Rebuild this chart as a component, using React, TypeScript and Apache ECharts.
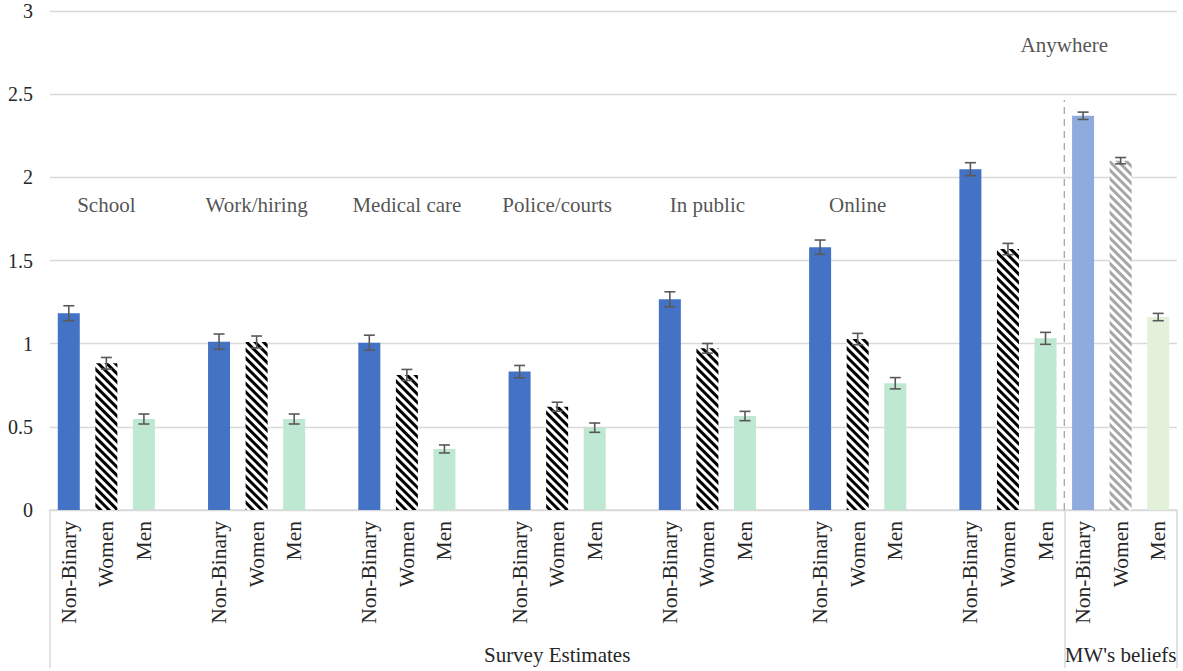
import React, { useEffect, useRef } from 'react';
import * as echarts from 'echarts';

// ---- data ----
const genders = ['Non-Binary', 'Women', 'Men'];
const surveyGroups = ['School', 'Work/hiring', 'Medical care', 'Police/courts', 'In public', 'Online', 'Anywhere'];
const nbSurvey = [1.183, 1.012, 1.006, 0.832, 1.267, 1.58, 2.049];
const womenSurvey = [0.882, 1.01, 0.812, 0.621, 0.972, 1.028, 1.569];
const menSurvey = [0.547, 0.547, 0.367, 0.495, 0.565, 0.762, 1.032];
const nbErr = [0.045, 0.046, 0.045, 0.037, 0.045, 0.043, 0.039];
const womenErr = [0.035, 0.036, 0.033, 0.027, 0.029, 0.034, 0.034];
const menErr = [0.03, 0.03, 0.024, 0.028, 0.028, 0.034, 0.036];
const beliefsValues = [2.37, 2.1, 1.16];
const beliefsErr = [0.022, 0.019, 0.022];
const sectionLabels = ['Survey Estimates', "MW's beliefs"];
const yTicks = [0, 0.5, 1, 1.5, 2, 2.5, 3];

const FONT = 'Liberation Serif, serif';
const TEXT = '#262626';

const stripe = (color: string) => ({
  symbol: 'rect',
  symbolSize: 1,
  dashArrayX: [1, 0],
  dashArrayY: [3, 3],
  rotation: Math.PI / 4,
  color,
});

const surveyStyles = [
  { color: '#4472c4' },
  { color: '#ffffff', decal: stripe('#000000') },
  { color: '#bfe8d3' },
];
const beliefStyles = [
  { color: '#8faadc' },
  { color: '#ffffff', decal: stripe('#a6a6a6') },
  { color: '#e3f1da' },
];

export default function App() {
  const ref = useRef<HTMLDivElement>(null);

  useEffect(() => {
    if (!ref.current) return;
    const chart = echarts.init(ref.current, undefined, { renderer: 'svg' });

    const categories: string[] = [];
    const bars: any[] = [];
    const errs: number[][] = [];
    const groupLabelData: any[] = [];

    surveyGroups.forEach((g, gi) => {
      const vals = [nbSurvey[gi], womenSurvey[gi], menSurvey[gi]];
      const es = [nbErr[gi], womenErr[gi], menErr[gi]];
      const start = categories.length;
      genders.forEach((name, k) => {
        const idx = categories.length;
        categories.push(name);
        bars.push({ value: vals[k], itemStyle: surveyStyles[k] });
        errs.push([idx, vals[k] - es[k], vals[k] + es[k]]);
      });
      if (gi < surveyGroups.length - 1) {
        groupLabelData.push([start + 1.5, 1.834, g]);
        categories.push('');
        bars.push('-');
      } else {
        groupLabelData.push([start + 3, 2.796, g]);
      }
    });
    const boundary = categories.length;
    genders.forEach((name, k) => {
      const idx = categories.length;
      categories.push(name);
      bars.push({ value: beliefsValues[k], itemStyle: beliefStyles[k] });
      errs.push([idx, beliefsValues[k] - beliefsErr[k], beliefsValues[k] + beliefsErr[k]]);
    });
    const total = categories.length;

    chart.setOption({
      animation: false,
      backgroundColor: '#ffffff',
      textStyle: { fontFamily: FONT },
      grid: { left: 50, right: 6, top: 11, bottom: 161, containLabel: false, outerBoundsMode: 'none' },
      xAxis: [
        {
          type: 'category',
          data: categories,
          boundaryGap: true,
          axisLine: { show: true, lineStyle: { color: '#d9d9d9', width: 1.5 } },
          axisTick: {
            show: true,
            interval: (index: number) => index === 0 || index === boundary,
            length: 158,
            lineStyle: { color: '#d9d9d9', width: 1.5 },
          },
          axisLabel: {
            interval: 0,
            rotate: 90,
            margin: 11,
            fontFamily: FONT,
            fontSize: 21.5,
            color: TEXT,
          },
          splitLine: { show: false },
        },
        {
          type: 'value',
          min: 0,
          max: total,
          show: false,
          splitLine: { show: false },
        },
      ],
      yAxis: {
        type: 'value',
        min: yTicks[0],
        max: yTicks[yTicks.length - 1],
        interval: yTicks[1] - yTicks[0],
        axisLine: { show: false },
        axisTick: { show: false },
        axisLabel: { fontFamily: FONT, fontSize: 20, color: TEXT, margin: 17 },
        splitLine: { lineStyle: { color: '#d9d9d9', width: 1.3 } },
      },
      series: [
        {
          type: 'bar',
          xAxisIndex: 0,
          data: bars,
          barWidth: 22,
          silent: true,
        },
        {
          type: 'custom',
          xAxisIndex: 0,
          data: errs,
          silent: true,
          z: 5,
          renderItem: (params: any, api: any) => {
            const x = api.value(0);
            const lo = api.coord([x, api.value(1)]);
            const hi = api.coord([x, api.value(2)]);
            const w = 5.5;
            const st = { stroke: '#595959', lineWidth: 1.6 };
            return {
              type: 'group',
              children: [
                { type: 'line', shape: { x1: hi[0], y1: hi[1], x2: lo[0], y2: lo[1] }, style: st },
                { type: 'line', shape: { x1: hi[0] - w, y1: hi[1], x2: hi[0] + w, y2: hi[1] }, style: st },
                { type: 'line', shape: { x1: lo[0] - w, y1: lo[1], x2: lo[0] + w, y2: lo[1] }, style: st },
              ],
            };
          },
        },
        {
          type: 'line',
          xAxisIndex: 1,
          data: [[boundary, 0], [boundary, 2.465]],
          symbol: 'none',
          silent: true,
          lineStyle: { color: '#a6a6a6', width: 1.3, type: [7, 5] },
          z: 1,
        },
        {
          type: 'scatter',
          xAxisIndex: 1,
          data: groupLabelData,
          symbolSize: 1,
          silent: true,
          itemStyle: { color: 'rgba(0,0,0,0)' },
          label: {
            show: true,
            position: 'inside',
            formatter: (p: any) => p.data[2],
            fontFamily: FONT,
            fontSize: 21,
            color: TEXT,
          },
        },
      ],
    });

    const x0 = chart.convertToPixel({ xAxisIndex: 1 }, 0) as number;
    const xb = chart.convertToPixel({ xAxisIndex: 1 }, boundary) as number;
    const x1 = chart.convertToPixel({ xAxisIndex: 1 }, total) as number;
    const yBase = chart.convertToPixel({ yAxisIndex: 0 }, 0) as number;
    const mk = (text: string, x: number) => ({
      type: 'text',
      x,
      y: yBase + 145,
      silent: true,
      style: {
        text,
        font: `21px ${FONT}`,
        fill: TEXT,
        align: 'center',
        verticalAlign: 'middle',
        textAlign: 'center',
        textVerticalAlign: 'middle',
      },
    });
    chart.setOption({
      graphic: [mk(sectionLabels[0], (x0 + xb) / 2), mk(sectionLabels[1], (xb + x1) / 2)],
    });

    return () => chart.dispose();
  }, []);

  return (
    <div
      ref={ref}
      style={{ position: 'fixed', left: 0, top: 0, width: 1183, height: 671, background: '#fff' }}
    />
  );
}
